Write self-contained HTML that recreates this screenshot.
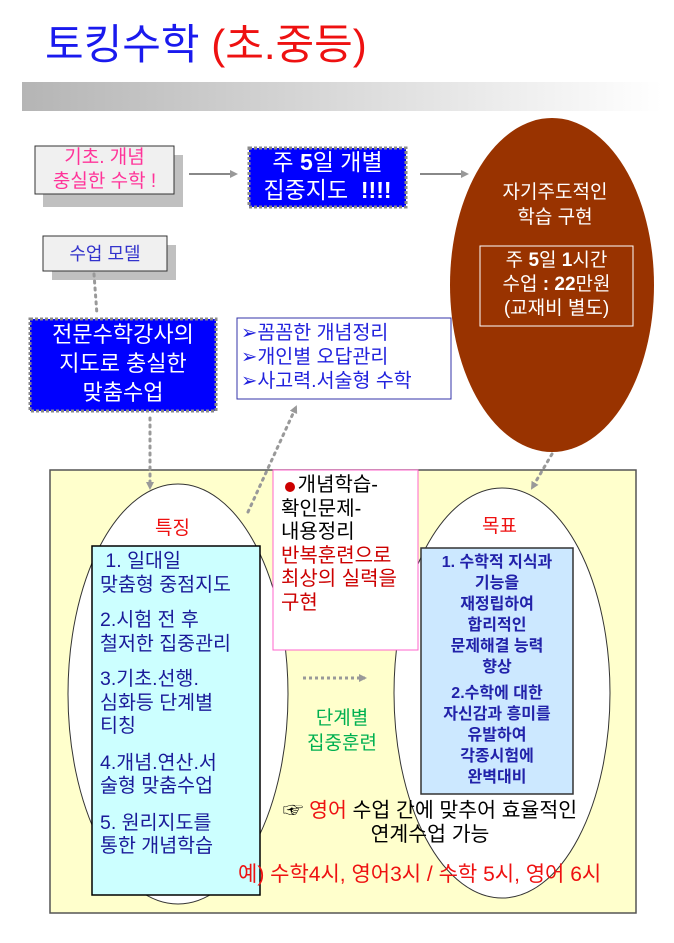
<!DOCTYPE html>
<html><head><meta charset="utf-8"><style>
body{margin:0;width:674px;height:943px;background:#fff;position:relative;overflow:hidden;font-family:"Liberation Sans","Noto Sans CJK KR",sans-serif}
.t{position:absolute;white-space:nowrap}
svg{position:absolute;left:0;top:0}
</style></head><body>
<svg width="674" height="943">
<defs>
<linearGradient id="g" x1="0" x2="1"><stop offset="0" stop-color="#b5b5b5"/><stop offset="1" stop-color="#fff"/></linearGradient>
<marker id="ah" markerWidth="8" markerHeight="8" refX="6" refY="4" orient="auto" markerUnits="userSpaceOnUse"><path d="M0,0L8,4L0,8z" fill="#999"/></marker>
</defs>
<rect x="22" y="82" width="640" height="29" fill="url(#g)"/>
<rect x="43" y="155" width="140" height="52" fill="#c0c0c0"/>
<rect x="35" y="146" width="139" height="48" fill="#f0f0f0" stroke="#333" stroke-width="1"/>
<line x1="189" y1="174" x2="236" y2="174" stroke="#888" stroke-width="2" marker-end="url(#ah)"/>
<rect x="249" y="148" width="157" height="59" fill="#0000ff" stroke="#888" stroke-width="3" stroke-dasharray="3,2"/>
<line x1="420" y1="174" x2="467" y2="174" stroke="#888" stroke-width="2" marker-end="url(#ah)"/>
<ellipse cx="552" cy="285" rx="102" ry="167" fill="#993300"/>
<rect x="480" y="246" width="153" height="80" fill="none" stroke="#fff" stroke-width="1"/>
<rect x="52" y="245" width="124" height="35" fill="#c0c0c0"/>
<rect x="43" y="236" width="124" height="35" fill="#f0f0f0" stroke="#333"/>
<line x1="94" y1="274" x2="97" y2="315" stroke="#999" stroke-width="3" stroke-dasharray="2,5" stroke-linecap="round"/>
<rect x="30" y="319" width="186" height="92" fill="#0000ff" stroke="#888" stroke-width="3" stroke-dasharray="3,2"/>
<rect x="237" y="318" width="214" height="81" fill="#fff" stroke="#3333aa"/>
<rect x="50" y="470" width="586" height="443" fill="#ffffcc" stroke="#555" stroke-width="1.5"/>
<ellipse cx="178" cy="694" rx="110" ry="210" fill="#fff" stroke="#333"/>
<ellipse cx="502" cy="693" rx="108" ry="205" fill="#fff" stroke="#333"/>
<rect x="92" y="546" width="168" height="349" fill="#ccffff" stroke="#000" stroke-width="1.5"/>
<rect x="273" y="470" width="145" height="180" fill="#fff" stroke="#ff66cc"/>
<rect x="421" y="548" width="152" height="246" fill="#cce8ff" stroke="#333" stroke-width="1.5"/>
<line x1="303" y1="678" x2="365" y2="678" stroke="#999" stroke-width="3" stroke-dasharray="3,3" marker-end="url(#ah)"/>
<line x1="150" y1="418" x2="150" y2="488" stroke="#999" stroke-width="3" stroke-dasharray="2,5" stroke-linecap="round" marker-end="url(#ah)"/>
<line x1="248" y1="512" x2="296" y2="407" stroke="#999" stroke-width="3" stroke-dasharray="2,5" stroke-linecap="round" marker-end="url(#ah)"/>
<line x1="552" y1="454" x2="532" y2="488" stroke="#999" stroke-width="3" stroke-dasharray="2,5" stroke-linecap="round" marker-end="url(#ah)"/>
<circle cx="290" cy="487" r="5" fill="#cc0000"/>
</svg>
<div class="t" style="left:45px;top:11px;font-size:42px;color:#1a1aee">토킹수학 <span style="color:#ee1111">(초.중등)</span></div>
<div class="t" style="left:35px;top:146px;width:139px;text-align:center;font-size:19px;line-height:24px;color:#ff3399">기초. 개념<br>충실한 수학 !</div>
<div class="t" style="left:249px;top:148px;width:157px;text-align:center;font-size:23px;line-height:28px;color:#fff">주 <b>5</b>일 개별<br>집중지도 &nbsp;<b>!!!!</b></div>
<div class="t" style="left:465px;top:180px;width:180px;text-align:center;font-size:19px;line-height:25px;color:#fff">자기주도적인<br>학습 구현</div>
<div class="t" style="left:480px;top:249px;width:153px;text-align:center;font-size:19px;line-height:24px;color:#fff">주 <b>5</b>일 <b>1</b>시간<br>수업 <b>: 22</b>만원<br>(교재비 별도)</div>
<div class="t" style="left:43px;top:240px;width:124px;text-align:center;font-size:18px;color:#3333cc">수업 모델</div>
<div class="t" style="left:30px;top:320px;width:186px;text-align:center;font-size:22px;line-height:29px;color:#fff">전문수학강사의<br>지도로 충실한<br>맞춤수업</div>
<div class="t" style="left:241px;top:321px;font-size:19.5px;line-height:24px;color:#2222dd">➢꼼꼼한 개념정리<br>➢개인별 오답관리<br>➢사고력.서술형 수학</div>
<div class="t" style="left:155px;top:513px;font-size:19px;color:#ee1111">특징</div>
<div class="t" style="left:482px;top:511px;font-size:19px;color:#ee1111">목표</div>
<div class="t" style="left:100px;top:550px;font-size:19.5px;line-height:23.5px;color:#1a1a99">&nbsp;1. 일대일<br>맞춤형 중점지도<br><div style="height:12px"></div>2.시험 전 후<br>철저한 집중관리<br><div style="height:12px"></div>3.기초.선행.<br>심화등 단계별<br>티칭<br><div style="height:13px"></div>4.개념.연산.서<br>술형 맞춤수업<br><div style="height:13px"></div>5. 원리지도를<br>통한 개념학습</div>
<div class="t" style="left:281px;top:474px;font-size:20px;line-height:23.5px;color:#000">&nbsp;&nbsp;&nbsp;개념학습-<br>확인문제-<br>내용정리<br><span style="color:#cc0000">반복훈련으로<br>최상의 실력을<br>구현</span></div>
<div class="t" style="left:421px;top:552px;width:152px;text-align:center;font-size:16px;line-height:21px;font-weight:bold;color:#2222aa">1. 수학적 지식과<br>기능을<br>재정립하여<br>합리적인<br>문제해결 능력<br>향상<br><div style="height:5px"></div>2.수학에 대한<br>자신감과 흥미를<br>유발하여<br>각종시험에<br>완벽대비</div>
<div class="t" style="left:292px;top:706px;width:100px;text-align:center;font-size:19px;line-height:25px;color:#00b050">단계별<br>집중훈련</div>
<div class="t" style="left:255px;top:799px;width:350px;text-align:center;font-size:20.5px;line-height:24px;color:#000">☞ <span style="color:#ee1111">영어</span> 수업 간에 맞추어 효율적인<br>연계수업 가능</div>
<div class="t" style="left:238px;top:858px;font-size:21px;color:#ee1111">예) 수학4시, 영어3시 / 수학 5시, 영어 6시</div>
</body></html>
